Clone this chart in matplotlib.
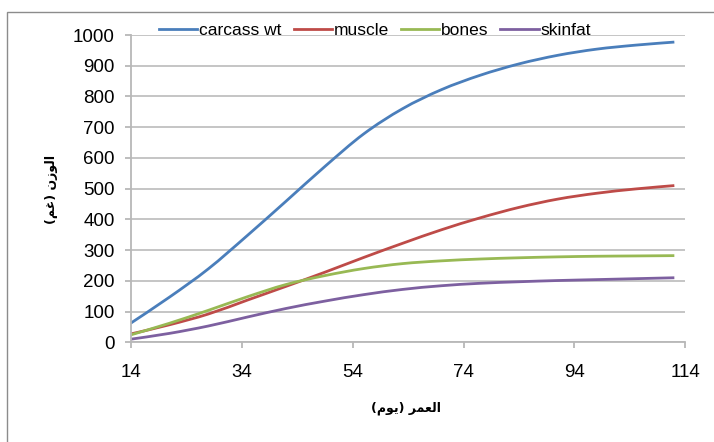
import matplotlib
matplotlib.use("Agg")
import matplotlib.pyplot as plt
from matplotlib.patches import Rectangle, PathPatch
from matplotlib.path import Path
from matplotlib.lines import Line2D

# days (weekly) and weights (g)
days = [14, 21, 28, 35, 42, 49, 56, 63, 70, 77, 84, 91, 98, 105, 112]
carcass = [62, 147, 239, 347, 459, 572, 678, 760, 822, 869, 906, 934, 954, 967, 977]
muscle = [27, 57, 92, 137, 182, 228, 276, 322, 366, 405, 439, 466, 485, 499, 510]
bones = [24, 62, 104, 148, 188, 217, 240, 256, 265, 271, 275, 278, 280, 281, 282]
skinfat = [10, 29, 53, 82, 110, 134, 155, 172, 184, 192, 197, 201, 204, 207, 210]

series_names = ["carcass wt", "muscle", "bones", "skinfat"]
colors = ["#4A7EBB", "#BE4B48", "#98B954", "#7D60A0"]

x_ticks = [14, 34, 54, 74, 94, 114]
y_ticks = list(range(0, 1001, 100))

# Arabic labels written in pre-shaped presentation forms, visual order
xlabel = "(\uFEE1\uFEEE\uFEF3) \uFEAE\uFEE4\uFECC\uFEDF\uFE8D"   # العمر (يوم)
ylabel = "(\uFEE2\uFECF) \uFEE5\uFEAF\uFEEE\uFEDF\uFE8D"         # الوزن (غم)


def smooth_path(xs, ys):
    # Excel-style smoothed line: cubic Bezier pieces through every point
    n = len(xs)
    verts = [(xs[0], ys[0])]
    codes = [Path.MOVETO]
    for i in range(n - 1):
        a = max(i - 1, 0)
        b = min(i + 2, n - 1)
        c1 = (xs[i] + (xs[i + 1] - xs[a]) / 6, ys[i] + (ys[i + 1] - ys[a]) / 6)
        c2 = (xs[i + 1] - (xs[b] - xs[i]) / 6, ys[i + 1] - (ys[b] - ys[i]) / 6)
        verts += [c1, c2, (xs[i + 1], ys[i + 1])]
        codes += [Path.CURVE4] * 3
    return Path(verts, codes)


plt.rcParams["font.family"] = ["Liberation Sans", "DejaVu Sans"]

fig = plt.figure(figsize=(7.14, 4.42), dpi=100)
ax = fig.add_axes([0.183, 0.2256, 0.777, 0.6952])

handles = []
for vals, name, c in zip([carcass, muscle, bones, skinfat], series_names, colors):
    ax.add_patch(PathPatch(smooth_path(days, vals), fill=False, edgecolor=c,
                           lw=2.0, joinstyle="round", capstyle="butt"))
    handles.append(Line2D([], [], color=c, lw=2.0, label=name))

ax.set_xlim(14, 114)
ax.set_ylim(0, 1000)
ax.set_xticks(x_ticks)
ax.set_yticks(y_ticks)
ax.yaxis.grid(True, color="#C0C0C0", lw=1.3)
ax.set_axisbelow(True)
for s in ["top", "right"]:
    ax.spines[s].set_visible(False)
for s in ["left", "bottom"]:
    ax.spines[s].set_color("#B8B8B8")
    ax.spines[s].set_linewidth(1.3)
ax.tick_params(axis="both", colors="#B8B8B8", labelcolor="black", labelsize=13.5,
               length=4.5, width=1.3)
ax.tick_params(axis="x", pad=11)
ax.tick_params(axis="y", pad=7)

fig.text(406 / 714, 1 - 408 / 442, xlabel, family="DejaVu Sans", weight="bold",
         fontsize=9, ha="center", va="center")
fig.text(51 / 714, 1 - 189 / 442, ylabel, family="DejaVu Sans", weight="bold",
         fontsize=9, ha="center", va="center", rotation=90)

fig.legend(handles=handles, loc="center", bbox_to_anchor=(375 / 714, 1 - 30 / 442),
           ncol=4, frameon=False, fontsize=12.5, handlelength=2.2,
           handletextpad=0.1, columnspacing=0.7, borderpad=0)

# outer chart-area border (runs off the right and bottom of the picture)
fig.patches.append(Rectangle((7 / 714, -0.1), 1.2, 1 - 12 / 442 + 0.1,
                             transform=fig.transFigure, fill=False,
                             edgecolor="#8C8C8C", lw=1.0))

fig.savefig("out.png", dpi=100)
